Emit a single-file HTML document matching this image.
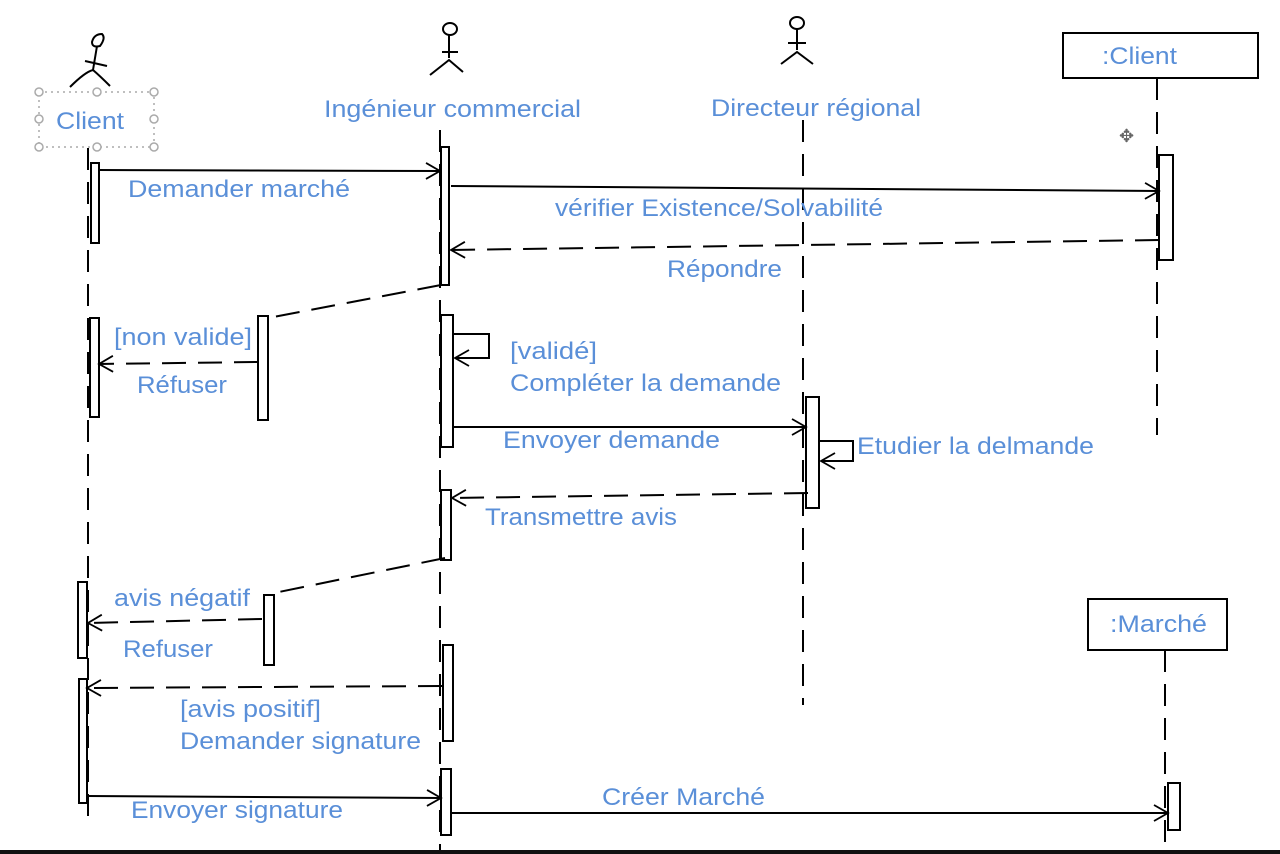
<!DOCTYPE html>
<html><head><meta charset="utf-8"><style>
html,body{margin:0;padding:0;background:#fff;width:1280px;height:854px;overflow:hidden}
text{font-family:"Liberation Sans",sans-serif;font-size:24px;fill:#5a8fd8}
</style></head><body>
<svg width="1280" height="854" viewBox="0 0 1280 854" xmlns="http://www.w3.org/2000/svg">
<defs>
<marker id="a" markerWidth="18" markerHeight="18" refX="15" refY="9" orient="auto" markerUnits="userSpaceOnUse">
<path d="M1,1 L15,9 L1,17" fill="none" stroke="#000" stroke-width="1.8"/></marker>
</defs>
<g stroke="#000" stroke-width="2" fill="none">
<g>
<path d="M92,42 q2,-8 10,-8 q4,4 -2,12 q-8,2 -8,-4z"/><path d="M97,46 L93,70 M85,61 L107,66 M70,87 Q85,72 93,70 Q100,76 110,86"/>
</g>
<g>
<ellipse cx="450" cy="29" rx="7" ry="6"/><path d="M449,35 L449,58 M442,52 L458,52 M430,75 L449,60 L463,72"/>
</g>
<g>
<ellipse cx="797" cy="23" rx="7" ry="6"/><path d="M797,29 L797,50 M788,43 L806,43 M781,64 L797,52 L813,64"/>
</g>
<path d="M88,148 L88,826" stroke-dasharray="22,12"/>
<path d="M440,130 L440,850" stroke-dasharray="22,12"/>
<path d="M803,120 L803,705" stroke-dasharray="22,12"/>
<path d="M1157,78 L1157,435" stroke-dasharray="22,12"/>
<path d="M1165,650 L1165,850" stroke-dasharray="22,12"/>
<rect x="1063" y="33" width="195" height="45"/>
<rect x="1088" y="599" width="139" height="51"/>
</g>
<g stroke="#000" stroke-width="2" fill="#fff">
<rect x="91" y="163" width="8" height="80"/>
<rect x="90" y="318" width="9" height="99"/>
<rect x="78" y="582" width="9" height="76"/>
<rect x="79" y="679" width="8" height="124"/>
<rect x="441" y="147" width="8" height="138"/>
<rect x="441" y="315" width="12" height="132"/>
<rect x="441" y="490" width="10" height="70"/>
<rect x="443" y="645" width="10" height="96"/>
<rect x="441" y="769" width="10" height="66"/>
<rect x="806" y="397" width="13" height="111"/>
<rect x="1159" y="155" width="14" height="105"/>
<rect x="1168" y="783" width="12" height="47"/>
<rect x="258" y="316" width="10" height="104"/>
<rect x="264" y="595" width="10" height="70"/>
</g>
<g stroke="#aaa" stroke-width="1.5" fill="#fff">
<rect x="39" y="92" width="115" height="55" fill="none" stroke-dasharray="2,4"/>
<circle cx="39" cy="92" r="4"/><circle cx="97" cy="92" r="4"/><circle cx="154" cy="92" r="4"/>
<circle cx="39" cy="119" r="4"/><circle cx="154" cy="119" r="4"/>
<circle cx="39" cy="147" r="4"/><circle cx="97" cy="147" r="4"/><circle cx="154" cy="147" r="4"/>
</g>
<g stroke="#000" stroke-width="2" fill="none">
<path d="M99,170 L440,171" marker-end="url(#a)"/>
<path d="M451,186 L1159,191" marker-end="url(#a)"/>
<path d="M1159,240 L451,250" stroke-dasharray="24,12" marker-end="url(#a)"/>
<path d="M441,285 L268,318" stroke-dasharray="24,12"/>
<path d="M258,362 L99,364" stroke-dasharray="24,12" marker-end="url(#a)"/>
<path d="M453,334 L489,334 L489,358 L455,358" marker-end="url(#a)"/>
<path d="M453,427 L806,427" marker-end="url(#a)"/>
<path d="M819,441 L853,441 L853,461 L821,461" marker-end="url(#a)"/>
<path d="M808,493 L452,498" stroke-dasharray="24,12" marker-end="url(#a)"/>
<path d="M445,558 L274,593" stroke-dasharray="24,12"/>
<path d="M262,619 L88,623" stroke-dasharray="24,12" marker-end="url(#a)"/>
<path d="M442,686 L87,688" stroke-dasharray="24,12" marker-end="url(#a)"/>
<path d="M87,796 L441,798" marker-end="url(#a)"/>
<path d="M451,813 L1168,813" marker-end="url(#a)"/>
</g>
<rect x="0" y="850" width="1280" height="4" fill="#111"/>
<text x="1119" y="142" style="font-size:18px;fill:#666">✥</text>
<text x="56" y="129" textLength="68" lengthAdjust="spacingAndGlyphs">Client</text>
<text x="324" y="117" textLength="257" lengthAdjust="spacingAndGlyphs">Ingénieur commercial</text>
<text x="711" y="116" textLength="210" lengthAdjust="spacingAndGlyphs">Directeur régional</text>
<text x="1102" y="64" textLength="75" lengthAdjust="spacingAndGlyphs">:Client</text>
<text x="1110" y="632" textLength="97" lengthAdjust="spacingAndGlyphs">:Marché</text>
<text x="128" y="197" textLength="222" lengthAdjust="spacingAndGlyphs">Demander marché</text>
<text x="555" y="216" textLength="328" lengthAdjust="spacingAndGlyphs">vérifier Existence/Solvabilité</text>
<text x="667" y="277" textLength="115" lengthAdjust="spacingAndGlyphs">Répondre</text>
<text x="114" y="345" textLength="138" lengthAdjust="spacingAndGlyphs">[non valide]</text>
<text x="137" y="393" textLength="90" lengthAdjust="spacingAndGlyphs">Réfuser</text>
<text x="510" y="359" textLength="87" lengthAdjust="spacingAndGlyphs">[validé]</text>
<text x="510" y="391" textLength="271" lengthAdjust="spacingAndGlyphs">Compléter la demande</text>
<text x="503" y="448" textLength="217" lengthAdjust="spacingAndGlyphs">Envoyer demande</text>
<text x="857" y="454" textLength="237" lengthAdjust="spacingAndGlyphs">Etudier la delmande</text>
<text x="485" y="525" textLength="192" lengthAdjust="spacingAndGlyphs">Transmettre avis</text>
<text x="114" y="606" textLength="136" lengthAdjust="spacingAndGlyphs">avis négatif</text>
<text x="123" y="657" textLength="90" lengthAdjust="spacingAndGlyphs">Refuser</text>
<text x="180" y="717" textLength="141" lengthAdjust="spacingAndGlyphs">[avis positif]</text>
<text x="180" y="749" textLength="241" lengthAdjust="spacingAndGlyphs">Demander signature</text>
<text x="131" y="818" textLength="212" lengthAdjust="spacingAndGlyphs">Envoyer signature</text>
<text x="602" y="805" textLength="163" lengthAdjust="spacingAndGlyphs">Créer Marché</text>
</svg>
</body></html>
